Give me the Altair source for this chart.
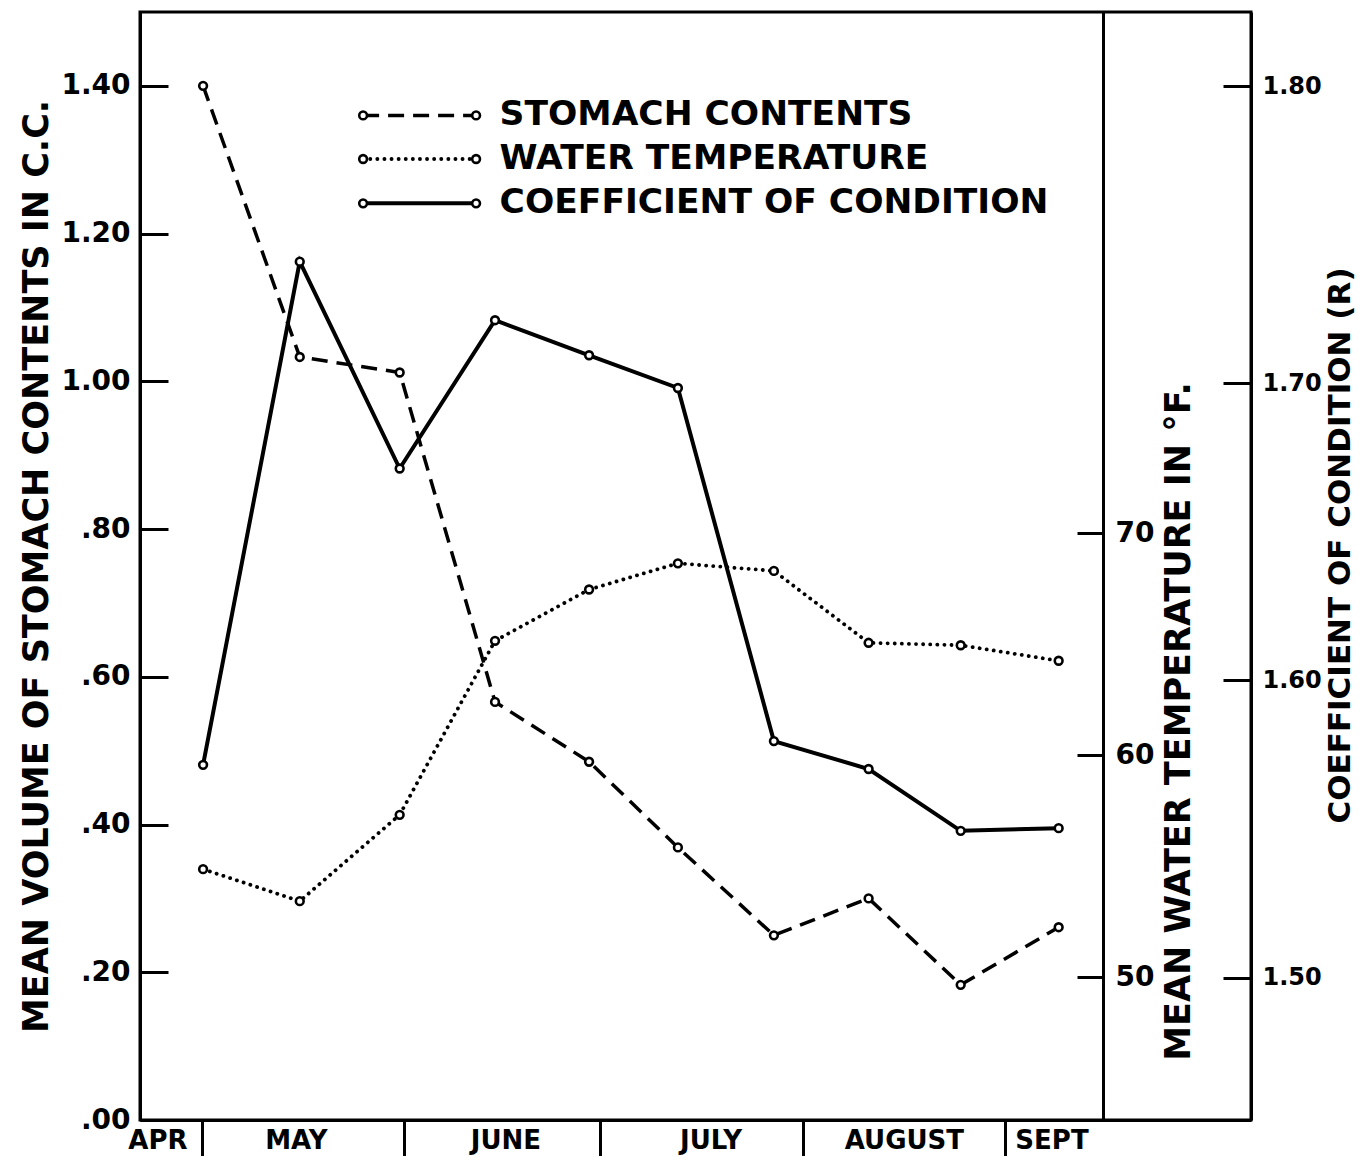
import altair as alt
import pandas as pd

# ---- data (x = day number counted from 1 April) ----
days = [30.2, 45.0, 60.3, 74.9, 89.3, 102.9, 117.6, 132.1, 146.2, 161.2]
stomach_cc = [1.40, 1.033, 1.012, 0.566, 0.485, 0.369, 0.250, 0.300, 0.183, 0.261]
water_temp_f = [54.86, 53.42, 57.31, 65.15, 67.46, 68.64, 68.30, 65.06, 64.95, 64.25]
condition_r = [1.5716, 1.7409, 1.6713, 1.7212, 1.7094, 1.6984, 1.5796, 1.5702, 1.5494, 1.5503]

month_names = ["APR", "MAY", "JUNE", "JULY", "AUGUST", "SEPT"]
month_label_days = [23.2, 44.4, 76.5, 107.9, 137.5, 160.1]
month_start_days = [30, 61, 91, 122, 153]

stomach_ticks = [0.0, 0.2, 0.4, 0.6, 0.8, 1.0, 1.2, 1.4]
water_ticks = [50, 60, 70]
condition_ticks = [1.5, 1.6, 1.7, 1.8]

legend_labels = ["STOMACH CONTENTS", "WATER TEMPERATURE", "COEFFICIENT OF CONDITION"]
legend_series = ["stomach", "water", "condition"]
legend_x_start = [54.7, 54.7, 54.7]
legend_x_end = [72.0, 72.0, 72.0]
legend_text_x = [75.6, 75.6, 75.6]
legend_y = [1.360, 1.301, 1.241]

FONT = "DejaVu Sans"

df = pd.DataFrame({"day": days, "stomach": stomach_cc, "water": water_temp_f, "condition": condition_r})

styles = {
    "stomach": dict(strokeDash=[16, 9], strokeWidth=3.5),
    "water": dict(strokeDash=[0.1, 7], strokeWidth=3.8, strokeCap="round"),
    "condition": dict(strokeWidth=4),
}
pt = alt.OverlayMarkDef(filled=False, fill="white", color="black", size=60, strokeWidth=2.6, opacity=1)

x_scale = alt.Scale(domain=[20.54, 190.65], nice=False, zero=False)
is_bound = " || ".join(f"datum.value == {d}" for d in month_start_days)
label_expr = "".join(f"datum.value == {d} ? '{n}' : " for d, n in zip(month_label_days, month_names)) + "''"
x_axis = alt.Axis(
    values=month_start_days + month_label_days, labelExpr=label_expr, title=None, grid=False,
    tickSize=36, tickWidth=3, tickOpacity={"condition": {"test": is_bound, "value": 1}, "value": 0},
    labelPadding=-16, labelBaseline="middle", labelFontSize=26, labelFlush=False, labelOverlap=False,
)

def X(field):
    return alt.X(f"{field}:Q", scale=x_scale, axis=x_axis)

st_scale = alt.Scale(domain=[0, 1.5], nice=False, zero=False)
st_axis = alt.Axis(
    values=stomach_ticks, orient="left",
    labelExpr="datum.value < 1 ? substring(format(datum.value, '.2f'), 1) : format(datum.value, '.2f')",
    tickSize={"expr": "-28"}, labelPadding=38, grid=False,
    title="MEAN VOLUME OF STOMACH CONTENTS IN C.C.", titlePadding=6, titleFontSize=35,
)

def YS(field):
    return alt.Y(f"{field}:Q", scale=st_scale, axis=st_axis)

stomach_line = alt.Chart(df).mark_line(color="black", point=pt, **styles["stomach"]).encode(
    x=X("day"), y=YS("stomach"))

leg = pd.DataFrame({"series": legend_series, "label": legend_labels, "x1": legend_x_start,
                    "x2": legend_x_end, "tx": legend_text_x, "ly": legend_y})
leg_layers = []
for i, s in enumerate(legend_series):
    sub = leg.iloc[[i]]
    leg_layers.append(alt.Chart(sub).mark_rule(color="black", **styles[s]).encode(
        x=X("x1"), x2="x2", y=YS("ly")))
leg_pts = pd.DataFrame({"px": legend_x_start + legend_x_end, "py": legend_y + legend_y})
leg_layers.append(alt.Chart(leg_pts).mark_point(filled=False, fill="white", color="black", size=60,
                                                strokeWidth=2.6, opacity=1).encode(x=X("px"), y=YS("py")))
leg_layers.append(alt.Chart(leg).mark_text(align="left", baseline="middle", font=FONT, fontSize=34.5,
                                           fontWeight="bold", color="black").encode(
    x=X("tx"), y=YS("ly"), text="label"))

stomach_group = alt.layer(stomach_line, *leg_layers)

water_line = alt.Chart(df).mark_line(color="black", point=pt, **styles["water"]).encode(
    x=X("day"),
    y=alt.Y("water:Q", scale=alt.Scale(domain=[43.56, 93.48], nice=False, zero=False),
            axis=alt.Axis(values=water_ticks, orient="right", offset=-148, grid=False,
                          tickSize={"expr": "-26"}, labelPadding=38,
                          title="MEAN WATER TEMPERATURE IN °F.", titleAngle=270, titleFontSize=35,
                          titleBaseline="top", titleY=709, titlePadding=8)))

cond_line = alt.Chart(df).mark_line(color="black", point=pt, **styles["condition"]).encode(
    x=X("day"),
    y=alt.Y("condition:Q", scale=alt.Scale(domain=[1.4521, 1.8249], nice=False, zero=False),
            axis=alt.Axis(values=condition_ticks, orient="right", format=".2f", grid=False,
                          tickSize={"expr": "-28"}, labelPadding=39, labelFontSize=24,
                          title="COEFFICIENT OF CONDITION (R)", titleAngle=270, titleFontSize=31,
                          titleBaseline="top", titleY=533, titlePadding=4)))

chart = alt.layer(stomach_group, water_line, cond_line).resolve_scale(y="independent").properties(
    width=1111, height=1108,
    autosize=alt.AutoSizeParams(type="none"),
    padding={"left": 132, "top": 4, "right": 107, "bottom": 36},
    background="white",
).configure_view(stroke="black", strokeWidth=3).configure_axis(
    domainColor="black", domainWidth=3, tickColor="black", tickWidth=3,
    labelFont=FONT, labelFontSize=28, labelFontWeight="bold", labelColor="black",
    titleFont=FONT, titleFontSize=34, titleFontWeight="bold", titleColor="black",
    labelFlush=False, labelOverlap=False,
)

chart.save("out.html", embed_options={"renderer": "svg", "actions": False})
